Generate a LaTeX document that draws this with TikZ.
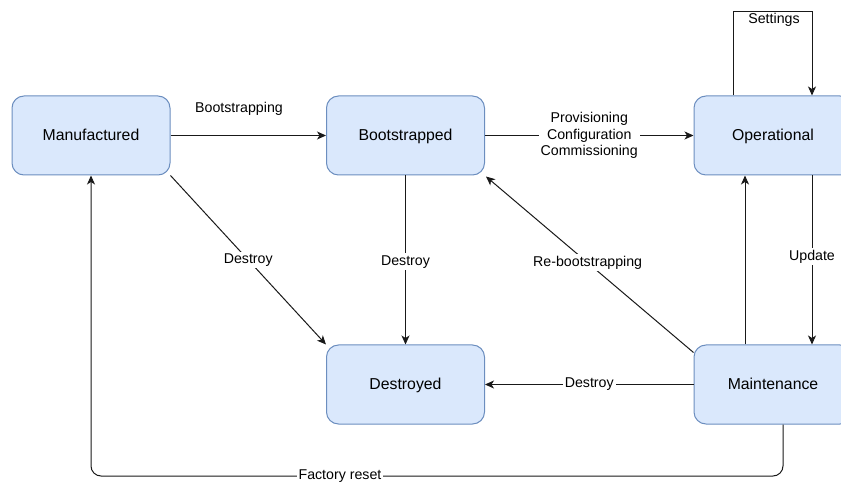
\documentclass[tikz,border=0pt]{standalone}
\usepackage{fontspec}
\setmainfont{Liberation Sans}
\usetikzlibrary{arrows.meta,calc}
\definecolor{nodefill}{HTML}{DAE8FC}
\definecolor{nodeline}{HTML}{6C8EBF}
\begin{document}
\begin{tikzpicture}[x=1pt,y=-1pt,
  state/.style={draw=nodeline,fill=nodefill,line width=1pt,rounded corners=12pt,
    minimum width=158pt,minimum height=79pt,inner sep=0pt,font=\fontsize{15.8}{18}\selectfont,
    text height=11.5pt,text depth=1.5pt},
  conn/.style={draw=black!90,line width=1pt,-{Stealth[length=9pt,width=8pt,inset=2.5pt]}},
  lbl/.style={fill=white,inner sep=2pt,font=\fontsize{14.2}{16.5}\selectfont,align=center},
  freelbl/.style={inner sep=1pt,font=\fontsize{14.2}{16.5}\selectfont}]
\useasboundingbox (0,0) rectangle (841,486);
\clip (0,0) rectangle (841,486);
\node[state] (manu) at (91,135.5) {Manufactured};
\node[state] (boot) at (405.5,135.5) {Bootstrapped};
\node[state] (oper) at (773,135.5) {Operational};
\node[state] (dest) at (405.5,384.5) {Destroyed};
\node[state] (main) at (773,384.5) {Maintenance};

\draw[conn] (manu.east) -- (boot.west);
\node[freelbl] (lboot) at (239,109) {Bootstrapping};

\draw[conn] (boot.east) -- node[lbl]{Provisioning\\Configuration\\Commissioning} (oper.west);

\coordinate (sa) at ($(oper.north)+(-40,0)$);
\coordinate (sb) at ($(oper.north)+(39,0)$);
\draw[conn] (sa) -- (sa |- 0,12) -- (sb |- 0,12) -- (sb);
\node[freelbl] (lset) at (774,19.5) {Settings};

\coordinate (ua) at ($(oper.south)+(39,0)$);
\draw[conn] (ua) -- node[lbl,pos=0.48]{Update} (ua |- main.north);

\coordinate (ma) at ($(main.north)+(-28,0)$);
\draw[conn] (ma) -- (ma |- oper.south);

\draw[conn] ($(main.north west)+(0,8)$) -- node[lbl,pos=0.51]{Re-bootstrapping} ($(boot.south east)+(1,1)$);

\draw[conn] (main.west) -- node[lbl]{Destroy} (dest.east);

\draw[conn] (boot.south) -- node[lbl,pos=0.51]{Destroy} (dest.north);

\draw[conn] (manu.south east) -- node[lbl,pos=0.5]{Destroy} (dest.north west);

\coordinate (fa) at ($(main.south)+(10,0)$);
\draw[conn,rounded corners=10pt] (fa) -- (fa |- 0,476) -- (manu.south |- 0,476) -- (manu.south);
\node[lbl] (lfac) at (340,476) {Factory reset};
\end{tikzpicture}
\end{document}
